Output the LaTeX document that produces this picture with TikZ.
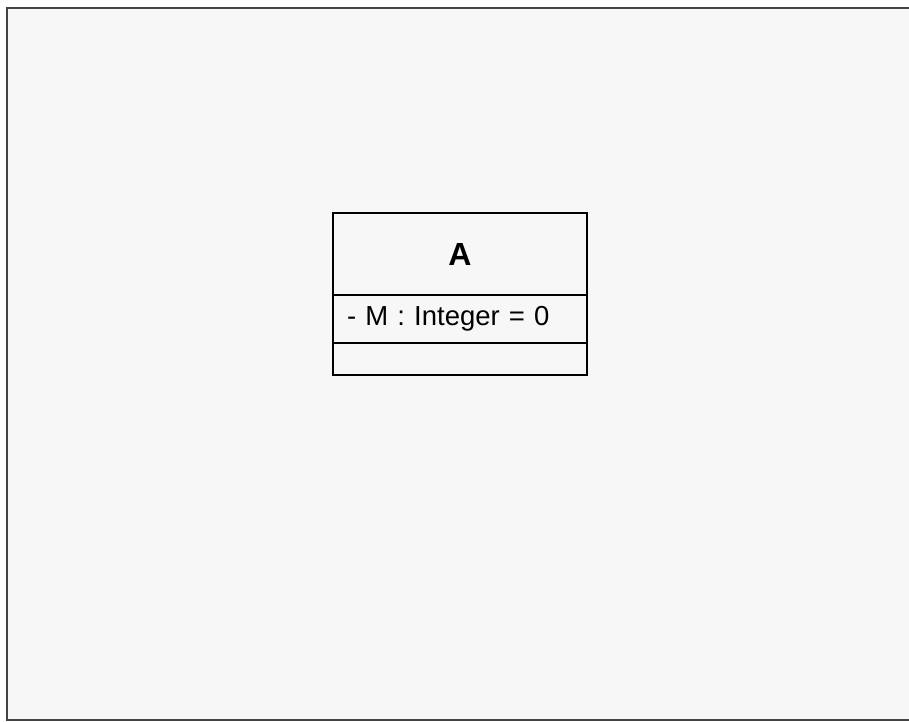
\documentclass[tikz,border=0pt]{standalone}
\usepackage{fontspec}
\setmainfont{Liberation Sans}
\usetikzlibrary{positioning}
\definecolor{canvas}{HTML}{F7F7F7}
\definecolor{framegray}{HTML}{444444}

\begin{document}
\begin{tikzpicture}[
  x=1pt,y=-1pt,
  compartment/.style={draw=black,line width=1.2pt,fill=canvas,minimum width=254pt,
                      inner sep=0pt,outer sep=0pt},
  classname/.style={compartment,minimum height=82pt,
                    font=\bfseries\fontsize{32}{36}\selectfont},
  attrpart/.style={compartment,minimum height=48pt,inner xsep=14pt,text width=226pt,
                   align=left,font=\fontsize{27.5}{31}\selectfont},
  oppart/.style={compartment,minimum height=32pt},
  frameline/.style={draw=framegray,line width=2pt,fill=canvas}
]
\useasboundingbox (0,0) rectangle (909,721);
\fill[white] (0,0) rectangle (909,721);
\begin{scope}
  \clip (0,0) rectangle (909,721);
  \draw[frameline] (7,8) rectangle (918,720);
\end{scope}

\node[classname,anchor=north west] (clsA) at (333,213) {A};
\node[attrpart,below=0pt of clsA] (attrsA) {- M : Integer = 0};
\node[oppart,below=0pt of attrsA] (opsA) {};
\end{tikzpicture}
\end{document}
